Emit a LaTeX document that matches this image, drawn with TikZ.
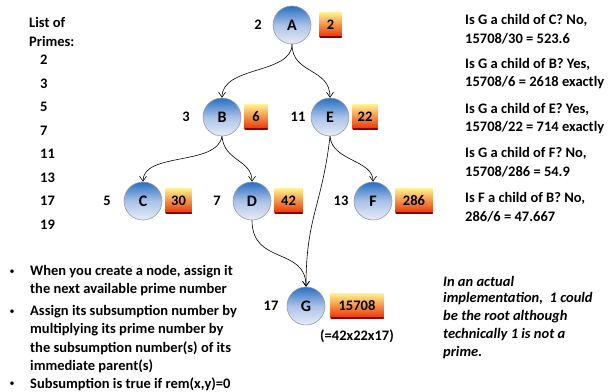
\documentclass[tikz,border=0pt]{standalone}
\usepackage{fontspec}
\setmainfont{Carlito}
\usetikzlibrary{arrows.meta,positioning}

\definecolor{circtop}{RGB}{40,110,196}
\definecolor{circmid}{RGB}{170,194,230}
\definecolor{circbot}{RGB}{232,236,248}
\definecolor{circrim}{RGB}{150,155,170}
\definecolor{boxtop}{RGB}{255,240,140}
\definecolor{boxmid}{RGB}{255,170,30}
\definecolor{boxbot}{RGB}{235,45,0}
\definecolor{boxedge}{RGB}{140,0,0}

\tikzset{
  concept/.style={circle, minimum size=38pt, inner sep=0pt, draw=circrim, line width=0.6pt,
    top color=circtop, bottom color=circbot, middle color=circmid,
    font=\fontsize{16}{16}\selectfont\bfseries},
  numbox/.style={rectangle, minimum height=25pt, inner sep=0pt, anchor=west,
    top color=boxtop, middle color=boxmid, bottom color=boxbot,
    font=\fontsize{14.5}{14.5}\selectfont\bfseries,
    path picture={\draw[boxedge, line width=2.5pt]
      (path picture bounding box.south west) -- (path picture bounding box.south east);}},
  prime/.style={font=\fontsize{14.5}{14.5}\selectfont\bfseries, inner sep=0pt},
  txt/.style={font=\fontsize{14.5}{14.5}\selectfont\bfseries, inner sep=0pt, anchor=west},
  note/.style={font=\fontsize{14.5}{14.5}\selectfont\bfseries\itshape, inner sep=0pt, anchor=west},
  dot/.style={font=\fontsize{10}{10}\selectfont, inner sep=0pt},
  link/.style={draw, line width=0.6pt, -{Straight Barb[length=5pt,width=7pt]}},
}

\begin{document}
\begin{tikzpicture}[x=1pt,y=-1pt]
\useasboundingbox (0,0) rectangle (610,391);

% concept nodes
\node[concept] (A) at (292,25) {A};
\node[concept] (B) at (222,117) {B};
\node[concept] (E) at (330,117) {E};
\node[concept] (C) at (143,201) {C};
\node[concept] (D) at (252,201) {D};
\node[concept] (F) at (373,201) {F};
\node[concept] (G) at (306,306) {G};

% subsumption numbers
\node[numbox, minimum width=22pt] (nA) at ([xshift=8pt]A.east) {2};
\node[numbox, minimum width=23pt] (nB) at ([xshift=3pt]B.east) {6};
\node[numbox, minimum width=25pt] (nE) at ([xshift=3pt]E.east) {22};
\node[numbox, minimum width=26pt] (nC) at ([xshift=3pt]C.east) {30};
\node[numbox, minimum width=28pt] (nD) at ([xshift=3pt]D.east) {42};
\node[numbox, minimum width=37pt] (nF) at ([xshift=3pt]F.east) {286};
\node[numbox, minimum width=53pt] (nG) at ([xshift=5pt]G.east) {15708};

% prime labels
\node[prime] (pA) at (258,25) {2};
\node[prime] (pB) at (186,117) {3};
\node[prime] (pE) at (298,117) {11};
\node[prime] (pC) at (107,201) {5};
\node[prime] (pD) at (217,201) {7};
\node[prime] (pF) at (341,201) {13};
\node[prime] (pG) at (271,306) {17};
\node[prime] (prod) at (357,336) {(=42x22x17)};

% parent-child links
\draw[link] (A.south) .. controls +(0,30) and +(0,-32) .. (B.north);
\draw[link] (A.south) .. controls +(0,30) and +(0,-30) .. (E.north);
\draw[link] (B.south) .. controls +(-5,30) and +(0,-30) .. (C.north);
\draw[link] (B.south) .. controls +(2,25) and +(0,-22) .. (D.north);
\draw[link] (E.south) .. controls +(2,25) and +(0,-22) .. (F.north);
\draw[link] (E.south) .. controls +(-8,70) and +(0,-70) .. (G.north);
\draw[link] (D.south) .. controls +(0,45) and +(0,-40) .. (G.north);

% list of primes
\node[txt] (lst1) at (29,22) {List of};
\node[txt] (lst2) at (29,41) {Primes:};
\foreach \p/\yy in {2/60,3/84,5/107,7/131,11/154,13/178,17/201,19/225}
  \node[txt] (pr\p) at (40,\yy) {\p};

% divisibility checks
\foreach \line/\yy in {
  {Is G a child of C? No,}/20,
  {15708/30 = 523.6}/38.5,
  {Is G a child of B? Yes,}/64.5,
  {15708/6 = 2618 exactly}/83,
  {Is G a child of E? Yes,}/109,
  {15708/22 = 714 exactly}/127.5,
  {Is G a child of F? No,}/153.5,
  {15708/286 = 54.9}/172,
  {Is F a child of B? No,}/198,
  {286/6 = 47.667}/216.5}
  \node[txt] at (465,\yy) {\line};

% rules
\foreach \yy in {272,312,384}
  \node[dot] at (12,\yy) {•};
\foreach \line/\yy in {
  {When you create a node, assign it}/272,
  {the next available prime number}/290,
  {Assign its subsumption number by}/312,
  {multiplying its prime number by}/330,
  {the subsumption number(s) of its}/348,
  {immediate parent(s)}/366,
  {Subsumption is true if rem(x,y)=0}/384}
  \node[txt] at (30,\yy) {\line};

% remark
\foreach \line/\yy in {
  {In an actual}/281,
  {implementation,\ \ 1 could}/299,
  {be the root although}/317,
  {technically 1 is not a}/335,
  {prime.}/353}
  \node[note] at (443,\yy) {\line};
\end{tikzpicture}
\end{document}
